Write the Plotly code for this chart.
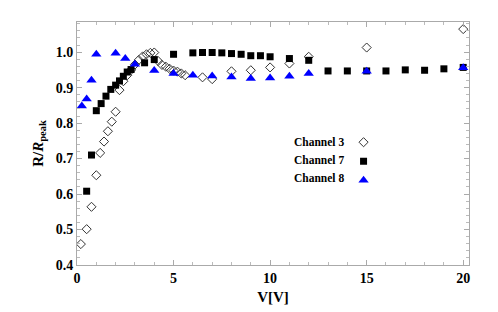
import plotly.graph_objects as go

x3 = [0.2, 0.5, 0.75, 1.0, 1.2, 1.4, 1.6, 1.8, 2.0, 2.2, 2.4, 2.6, 2.8, 3.0, 3.2, 3.4, 3.6, 3.8, 4.0,
      4.2, 4.4, 4.6, 4.8, 5.0, 5.2, 5.4, 5.6, 6.5, 7, 8, 9, 10, 11, 12, 15, 20]
y3 = [0.459, 0.501, 0.564, 0.653, 0.716, 0.748, 0.777, 0.804, 0.832, 0.893, 0.918, 0.935, 0.95, 0.965,
      0.978, 0.988, 0.994, 0.998, 0.999, 0.975, 0.964, 0.959, 0.953, 0.948, 0.945, 0.94, 0.935, 0.929,
      0.924, 0.946, 0.949, 0.957, 0.968, 0.987, 1.013, 1.065]

x7 = [0.5, 0.75, 1.0, 1.25, 1.5, 1.75, 2.0, 2.2, 2.4, 2.6, 2.8, 3.5, 4.0, 5, 6, 6.5, 7, 7.5, 8, 8.5,
      9, 9.5, 10, 11, 12, 13, 14, 15, 16, 17, 18, 19, 20]
y7 = [0.608, 0.71, 0.835, 0.855, 0.876, 0.895, 0.907, 0.919, 0.932, 0.944, 0.951, 0.97, 0.979, 0.994,
      0.998, 0.999, 0.999, 0.998, 0.996, 0.994, 0.99, 0.99, 0.987, 0.982, 0.977, 0.947, 0.947, 0.947,
      0.947, 0.95, 0.949, 0.953, 0.957]

x8 = [0.25, 0.5, 0.75, 1.0, 2.0, 2.5, 3.0, 4.0, 5, 6, 7, 8, 9, 10, 11, 12, 15, 20]
y8 = [0.848, 0.868, 0.921, 0.994, 0.997, 0.982, 0.966, 0.948, 0.94, 0.935, 0.933, 0.93, 0.926, 0.927,
      0.932, 0.94, 0.946, 0.956]

names = ["Channel 3", "Channel 7", "Channel 8"]
x_ticks = [0, 5, 10, 15, 20]
y_ticks = [0.4, 0.5, 0.6, 0.7, 0.8, 0.9, 1.0]

FONT = "Liberation Serif"

fig = go.Figure()
fig.add_trace(go.Scatter(x=x3, y=y3, mode="markers", name=" ",
                         marker=dict(symbol="diamond-open", size=7, color="#333333", line=dict(width=1))))
fig.add_trace(go.Scatter(x=x7, y=y7, mode="markers", name=" ",
                         marker=dict(symbol="square", size=7, color="black")))
fig.add_trace(go.Scatter(x=x8, y=y8, mode="markers", name=" ",
                         marker=dict(symbol="triangle-up", size=9, color="#0000ff")))

axis_common = dict(
    showgrid=False, zeroline=False, showline=True, linecolor="#aaaaaa", linewidth=1,
    mirror="allticks", ticks="inside", ticklen=5, tickcolor="#aaaaaa", automargin=False,
    tickfont=dict(family=FONT, size=14, color="black"),
)

fig.update_xaxes(range=[0, 20.3], tickvals=x_ticks, ticktext=[f"<b>{v}</b>" for v in x_ticks],
                 minor=dict(dtick=1, ticks="inside", ticklen=3, tickcolor="#bbbbbb"),
                 title=dict(text="<b>V[V]</b>", font=dict(family=FONT, size=15, color="black"), standoff=6),
                 **axis_common)
fig.update_yaxes(range=[0.4, 1.085], tickvals=y_ticks, ticktext=[f"<b>{v:.1f}</b>" for v in y_ticks],
                 minor=dict(dtick=0.02, ticks="inside", ticklen=3, tickcolor="#bbbbbb"),
                 title=dict(text="<b>R/<i>R</i><sub>peak</sub></b>", font=dict(family=FONT, size=15, color="black"), standoff=8),
                 **axis_common)

ann_y = [0.508, 0.434, 0.36]
for nm, yy in zip(names, ann_y):
    fig.add_annotation(x=0.686, y=yy, xref="paper", yref="paper", text=f"<b>{nm}</b>",
                       showarrow=False, xanchor="right", yanchor="middle",
                       font=dict(family=FONT, size=11.5, color="black"))

# page body has an 8px margin: shrink the figure and offset the margins to compensate
fig.update_layout(
    width=490, height=304,
    margin=dict(l=69, r=29, t=14, b=47),
    paper_bgcolor="white", plot_bgcolor="white",
    font=dict(family=FONT, color="black"),
    legend=dict(x=0.68, y=0.565, xanchor="left", yanchor="top", bgcolor="rgba(0,0,0,0)",
                font=dict(size=11), tracegroupgap=0, itemwidth=30),
    showlegend=True,
)

fig.write_html("out.html")
